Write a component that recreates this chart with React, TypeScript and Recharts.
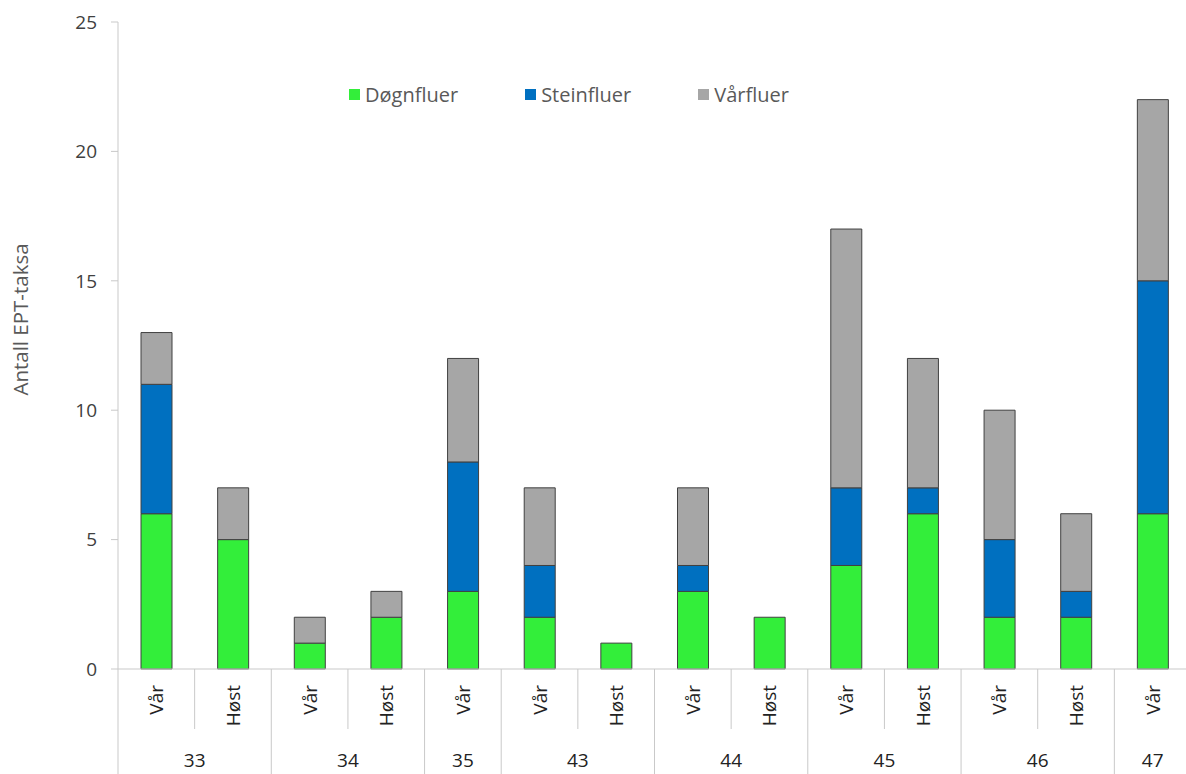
import { BarChart, Bar, XAxis, YAxis, Legend } from "recharts";

const sites = ["33", "33", "34", "34", "35", "43", "43", "44", "44", "45", "45", "46", "46", "47"];
const seasons = ["Vår", "Høst", "Vår", "Høst", "Vår", "Vår", "Høst", "Vår", "Høst", "Vår", "Høst", "Vår", "Høst", "Vår"];
const dognfluer = [6, 5, 1, 2, 3, 2, 1, 3, 2, 4, 6, 2, 2, 6];
const steinfluer = [5, 0, 0, 0, 5, 2, 0, 1, 0, 3, 1, 3, 1, 9];
const varfluer = [2, 2, 1, 1, 4, 3, 0, 3, 0, 10, 5, 5, 3, 7];
const yTicks = [0, 5, 10, 15, 20, 25];

const data = sites.map((site, i) => ({
  key: `${site}-${seasons[i]}`,
  site,
  season: seasons[i],
  dogn: dognfluer[i],
  stein: steinfluer[i],
  varf: varfluer[i],
}));

const FONT = "'Open Sans', sans-serif";
const AXIS_GRAY = "#c9c9c9";
const CHART_W = 1191;
const Y_AXIS_W = 118;
const BAND_FALLBACK = (CHART_W - Y_AXIS_W) / sites.length;

function SeasonTick(props: any) {
  const { x, y, payload } = props;
  const i = payload?.index ?? props.index ?? 0;
  const half = payload?.offset > 5 ? payload.offset : BAND_FALLBACK / 2;
  const left = x - half;
  const first = i === 0 || sites[i] !== sites[i - 1];
  let n = 1;
  while (first && i + n < sites.length && sites[i + n] === sites[i]) n++;
  return (
    <g>
      <line x1={left} x2={left} y1={y} y2={first ? y + 110 : y + 60} stroke={AXIS_GRAY} strokeWidth={1} />
      <text
        x={x}
        y={y + 16}
        transform={`rotate(-90, ${x}, ${y + 16})`}
        textAnchor="end"
        dominantBaseline="central"
        fontSize={19}
        fill="#222"
        fontFamily={FONT}
      >
        {seasons[i]}
      </text>
      {first && (
        <text x={left + n * half} y={y + 98} textAnchor="middle" fontSize={19} fill="#222" fontFamily={FONT}>
          {sites[i]}
        </text>
      )}
    </g>
  );
}

function renderLegend(props: any) {
  const items = props.payload || [];
  return (
    <div style={{ display: "flex", alignItems: "center", fontFamily: FONT, fontSize: 20, color: "#595959" }}>
      {items.map((entry: any) => (
        <div key={entry.value} style={{ display: "flex", alignItems: "center", marginRight: 67 }}>
          <span
            style={{
              display: "inline-block",
              width: 11,
              height: 11,
              background: entry.color ?? entry.payload?.fill,
              marginRight: 5,
            }}
          />
          <span>{entry.value}</span>
        </div>
      ))}
    </div>
  );
}

function YLabel(props: any) {
  const vb = props.viewBox || { x: 0, y: 22, height: 647 };
  const cx = vb.x + 20;
  const cy = vb.y + vb.height / 2 - 26;
  return (
    <text
      x={cx}
      y={cy}
      transform={`rotate(-90, ${cx}, ${cy})`}
      textAnchor="middle"
      dominantBaseline="central"
      fontSize={20.5}
      fill="#595959"
      fontFamily={FONT}
    >
      Antall EPT-taksa
    </text>
  );
}

export default function App() {
  return (
    <div style={{ position: "fixed", left: 0, top: 0, width: 1186, height: 774, overflow: "hidden", background: "#fff" }}>
      <BarChart
        width={CHART_W}
        height={774}
        data={data}
        margin={{ top: 22, right: 0, bottom: 0, left: 0 }}
        barSize={31}
        style={{ fontFamily: FONT }}
      >
        <XAxis
          dataKey="key"
          height={105}
          interval={0}
          tickSize={0}
          tickMargin={0}
          tickLine={false}
          axisLine={{ stroke: AXIS_GRAY }}
          tick={<SeasonTick />}
        />
        <YAxis
          width={Y_AXIS_W}
          domain={[0, 25]}
          ticks={yTicks}
          tickSize={7}
          tickMargin={14}
          axisLine={{ stroke: AXIS_GRAY }}
          tickLine={{ stroke: AXIS_GRAY }}
          tick={{ fontSize: 19, fill: "#404040", fontFamily: FONT }}
          label={{ content: <YLabel /> }}
        />
        <Legend
          layout="horizontal"
          verticalAlign="middle"
          align="center"
          content={renderLegend}
          wrapperStyle={{ top: 81, left: 349, width: "auto" }}
        />
        <Bar dataKey="dogn" name="Døgnfluer" stackId="a" fill="#33ee3a" stroke="#404040" strokeWidth={1} isAnimationActive={false} />
        <Bar dataKey="stein" name="Steinfluer" stackId="a" fill="#0070c0" stroke="#404040" strokeWidth={1} isAnimationActive={false} />
        <Bar dataKey="varf" name="Vårfluer" stackId="a" fill="#a6a6a6" stroke="#404040" strokeWidth={1} isAnimationActive={false} />
      </BarChart>
    </div>
  );
}
